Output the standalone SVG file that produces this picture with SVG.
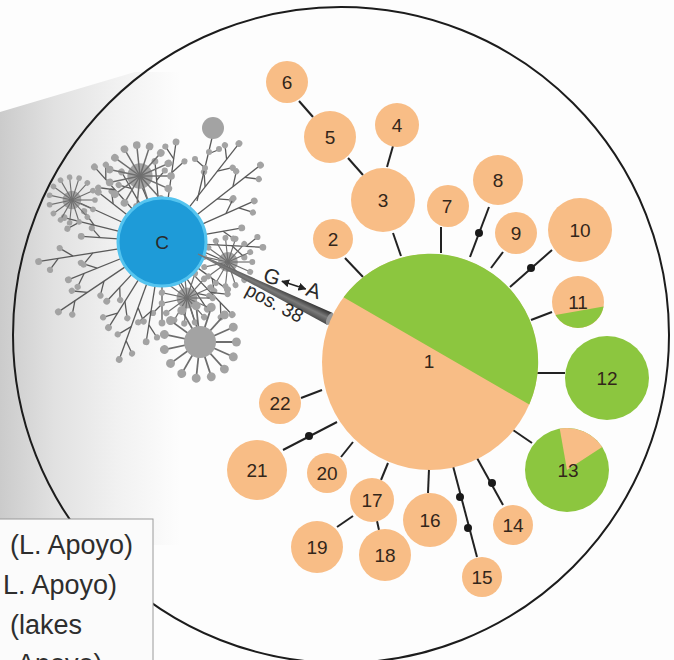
<svg xmlns="http://www.w3.org/2000/svg" xmlns:xlink="http://www.w3.org/1999/xlink" width="674" height="660" viewBox="0 0 674 660">
<style>
.cn line{stroke:#222;stroke-width:2}
.cn circle{fill:#1a1a1a}
.or{fill:#f8bd86}
.gr{fill:#8cc63f}
.num{font-family:"Liberation Sans",Arial,sans-serif;font-size:19px;fill:#33261a;text-anchor:middle}
.lab{font-family:"Liberation Sans",Arial,sans-serif;fill:#2a2a2a}
.leg{font-family:"Liberation Sans",Arial,sans-serif;font-size:27px;fill:#2e2e2e}
</style>
<defs>
<linearGradient id="beam" gradientUnits="userSpaceOnUse" x1="0" y1="0" x2="180" y2="0">
<stop offset="0" stop-color="#cbcbcb"/>
<stop offset="0.3" stop-color="#e1e1e1"/>
<stop offset="0.65" stop-color="#f1f1f1"/>
<stop offset="1" stop-color="#fdfdfd"/>
</linearGradient>
<linearGradient id="wg" gradientUnits="userSpaceOnUse" x1="0" y1="-7" x2="0" y2="7">
<stop offset="0" stop-color="#2a2a2a"/>
<stop offset="0.5" stop-color="#7a7a7a"/>
<stop offset="1" stop-color="#444"/>
</linearGradient>
<marker id="ah" viewBox="0 0 10 10" refX="9" refY="5" markerWidth="5" markerHeight="5" orient="auto-start-reverse">
<path d="M0,0 L10,5 L0,10 Z" fill="#222"/>
</marker>
<g id="spike" stroke="#6e6e6e" stroke-width="1.3" fill="#a3a3a3"><line x1="0" y1="0" x2="26" y2="0"/><circle cx="27" cy="0" r="3.3" stroke="none"/></g>
<g id="burst" fill="#a3a3a3">
<circle cx="0" cy="0" r="11"/>
<use href="#spike" transform="rotate(0)"/><use href="#spike" transform="rotate(24)"/><use href="#spike" transform="rotate(48)"/><use href="#spike" transform="rotate(72)"/><use href="#spike" transform="rotate(96)"/><use href="#spike" transform="rotate(120)"/><use href="#spike" transform="rotate(144)"/><use href="#spike" transform="rotate(168)"/><use href="#spike" transform="rotate(192)"/><use href="#spike" transform="rotate(216)"/><use href="#spike" transform="rotate(240)"/><use href="#spike" transform="rotate(264)"/><use href="#spike" transform="rotate(288)"/><use href="#spike" transform="rotate(312)"/><use href="#spike" transform="rotate(336)"/>
</g>
<g id="b1" stroke="#5a5a5a" stroke-width="1.3" fill="#a3a3a3"><line x1="44" y1="0" x2="100" y2="0"/><line x1="70" y1="0" x2="82" y2="-10"/><line x1="84" y1="0" x2="94" y2="9"/><g stroke="none"><circle cx="101" cy="0" r="3.4"/><circle cx="83" cy="-11" r="3.1"/><circle cx="95" cy="10" r="3.1"/></g></g>
<g id="b2" stroke="#5a5a5a" stroke-width="1.3" fill="#a3a3a3"><line x1="44" y1="0" x2="80" y2="0"/><line x1="62" y1="0" x2="70" y2="8"/><g stroke="none"><circle cx="81" cy="0" r="3.4"/><circle cx="71" cy="9" r="3.1"/></g></g>
<g id="b3" stroke="#5a5a5a" stroke-width="1.3" fill="#a3a3a3"><line x1="44" y1="0" x2="124" y2="0"/><line x1="70" y1="0" x2="80" y2="-9"/><line x1="90" y1="0" x2="101" y2="9"/><line x1="105" y1="0" x2="114" y2="-9"/><g stroke="none"><circle cx="125" cy="0" r="3.4"/><circle cx="81" cy="-10" r="3.1"/><circle cx="102" cy="10" r="3.1"/><circle cx="115" cy="-10" r="3.1"/></g></g>
</defs>

<rect x="0" y="0" width="674" height="660" fill="#fdfdfd"/>
<polygon points="0,112 135,72 180,72 180,545 0,545" fill="url(#beam)"/>

<circle id="frame" cx="341" cy="335" r="328" fill="none" stroke="#1c1c1c" stroke-width="2"/>

<g id="tree">
<g transform="translate(162,242)">
<use href="#b2" transform="rotate(-95)"/>
<use href="#b1" transform="rotate(-82) scale(1,-1)"/>
<use href="#b3" transform="rotate(-52)"/>
<use href="#b3" transform="rotate(-38) scale(1,-1)"/>
<use href="#b1" transform="rotate(-24)"/>
<use href="#b2" transform="rotate(-10)"/>
<use href="#b1" transform="rotate(3) scale(1,-1)"/>
<use href="#b2" transform="rotate(36)"/>
<use href="#b1" transform="rotate(46)"/>
<use href="#b2" transform="rotate(56) scale(1,-1)"/>
<use href="#b2" transform="rotate(90)"/>
<use href="#b1" transform="rotate(99) scale(1,-1)"/>
<use href="#b3" transform="rotate(110)"/>
<use href="#b1" transform="rotate(122)"/>
<use href="#b2" transform="rotate(133) scale(1,-1)"/>
<use href="#b3" transform="rotate(146)"/>
<use href="#b1" transform="rotate(158) scale(1,-1)"/>
<use href="#b3" transform="rotate(171)"/>
<use href="#b2" transform="rotate(184)"/>
<use href="#b1" transform="rotate(194) scale(1,-1)"/>
<use href="#b2" transform="rotate(218)"/>
<use href="#b1" transform="rotate(228)"/>
<use href="#b2" transform="rotate(240) scale(1,-1)"/>
</g>
<g stroke="#5a5a5a" stroke-width="1.3">
<line x1="148" y1="201" x2="142" y2="187"/>
<line x1="124" y1="223" x2="80" y2="203"/>
<line x1="197" y1="201" x2="212" y2="138"/>
<line x1="205" y1="168" x2="196" y2="160"/>
<line x1="208" y1="154" x2="218" y2="150"/>
<line x1="180" y1="281" x2="185" y2="290"/>
<line x1="190" y1="306" x2="197" y2="328"/>
<line x1="204" y1="252" x2="220" y2="259"/>
</g>
<use href="#burst" transform="translate(140,176) scale(1.15)"/>
<use href="#burst" transform="translate(72,200) scale(0.85)"/>
<use href="#burst" transform="translate(187,298) scale(0.95)"/>
<use href="#burst" transform="translate(200,342) scale(1.35)"/>
<use href="#burst" transform="translate(228,262) scale(0.9)"/>
<g fill="#a3a3a3">
<circle cx="195" cy="159" r="3"/><circle cx="219" cy="149" r="3"/>
<circle cx="205" cy="168" r="3"/><circle cx="209" cy="152" r="3"/>
<circle cx="213" cy="128" r="11"/>
<circle cx="200" cy="342" r="16"/>
</g>
</g>

<g id="nC">
<circle cx="162" cy="242" r="44" fill="#1e9bd8" stroke="#55c4ef" stroke-width="3"/>
<text x="162" y="249" class="lab" font-size="19" text-anchor="middle" fill="#1f4f80">C</text>
</g>

<g id="wedge">
<g transform="translate(198,254) rotate(26.2)">
<path d="M0,-0.6 L147,-6.5 L147,6.5 L0,0.6 Z" fill="url(#wg)"/>
<ellipse cx="147" cy="0" rx="3" ry="6.5" fill="#9a9a9a"/>
</g>
<g transform="translate(262,281) rotate(18)">
<text x="0" y="0" class="lab" font-size="21">G</text>
<line x1="19" y1="-6" x2="44" y2="-6" stroke="#222" stroke-width="1.6" marker-start="url(#ah)" marker-end="url(#ah)"/>
<text x="45" y="0" class="lab" font-size="21">A</text>
</g>
<text transform="translate(244,294) rotate(28)" class="lab" font-size="19">pos. 38</text>
</g>

<g id="connectors" class="cn">
<line x1="299" y1="101" x2="313" y2="117"/>
<line x1="348" y1="158" x2="363" y2="175"/>
<line x1="393" y1="146" x2="387" y2="167"/>
<line x1="393" y1="233" x2="401" y2="256"/>
<line x1="345" y1="258" x2="363" y2="277"/>
<line x1="441" y1="227" x2="441" y2="253"/>
<line x1="489" y1="207" x2="470" y2="257"/><circle cx="479" cy="233" r="4"/>
<line x1="503" y1="252" x2="491" y2="268"/>
<line x1="552" y1="250" x2="510" y2="287"/><circle cx="531" cy="268" r="4"/>
<line x1="552" y1="312" x2="531" y2="320"/>
<line x1="537" y1="373" x2="565" y2="373"/>
<line x1="513" y1="430" x2="532" y2="443"/>
<line x1="477" y1="458" x2="503" y2="505"/><circle cx="492" cy="483" r="4"/>
<line x1="453" y1="466" x2="477" y2="557"/><circle cx="460" cy="497" r="4"/><circle cx="468" cy="528" r="4"/>
<line x1="429" y1="469" x2="428" y2="493"/>
<line x1="388" y1="463" x2="381" y2="480"/>
<line x1="377" y1="521" x2="379" y2="530"/>
<line x1="353" y1="516" x2="337" y2="527"/>
<line x1="353" y1="442" x2="341" y2="457"/>
<line x1="337" y1="422" x2="283" y2="450"/><circle cx="309" cy="436" r="4"/>
<line x1="322" y1="390" x2="301" y2="398"/>
</g>

<g id="n1">
<circle cx="430" cy="362" r="108" class="or"/>
<path d="M343.5,297.3 A108,108 0 0 1 529.3,404.6 Z" class="gr"/>
<text x="429" y="368" class="num">1</text>
</g>
<g id="n2"><circle cx="333" cy="239" r="20" class="or"/><text x="333" y="246" class="num">2</text></g>
<g id="n3"><circle cx="383" cy="200" r="32" class="or"/><text x="383" y="207" class="num">3</text></g>
<g id="n4"><circle cx="397" cy="125" r="22" class="or"/><text x="397" y="132" class="num">4</text></g>
<g id="n5"><circle cx="330" cy="137" r="26" class="or"/><text x="330" y="144" class="num">5</text></g>
<g id="n6"><circle cx="287" cy="82" r="21" class="or"/><text x="287" y="89" class="num">6</text></g>
<g id="n7"><circle cx="448" cy="206" r="21" class="or"/><text x="447" y="213" class="num">7</text></g>
<g id="n8"><circle cx="498" cy="180" r="25" class="or"/><text x="498" y="187" class="num">8</text></g>
<g id="n9"><circle cx="516" cy="233" r="21" class="or"/><text x="516" y="240" class="num">9</text></g>
<g id="n10"><circle cx="580" cy="230" r="32" class="or"/><text x="580" y="237" class="num">10</text></g>
<g id="n11">
<circle cx="578" cy="302" r="26" class="or"/>
<path d="M603.6,306.5 A26,26 0 0 1 555.5,315 Z" class="gr"/>
<text x="578" y="309" class="num">11</text>
</g>
<g id="n12"><circle cx="607" cy="378" r="42" class="gr"/><text x="607" y="385" class="num">12</text></g>
<g id="n13">
<circle cx="567" cy="470" r="42" class="gr"/>
<path d="M567,470 L559.7,428.6 A42,42 0 0 1 602.2,447.1 Z" class="or"/>
<text x="568" y="477" class="num">13</text>
</g>
<g id="n14"><circle cx="513" cy="525" r="20" class="or"/><text x="513" y="532" class="num">14</text></g>
<g id="n15"><circle cx="482" cy="577" r="20" class="or"/><text x="482" y="584" class="num">15</text></g>
<g id="n16"><circle cx="430" cy="520" r="27" class="or"/><text x="430" y="527" class="num">16</text></g>
<g id="n17"><circle cx="372" cy="500" r="22" class="or"/><text x="372" y="507" class="num">17</text></g>
<g id="n18"><circle cx="385" cy="555" r="26" class="or"/><text x="385" y="562" class="num">18</text></g>
<g id="n19"><circle cx="317" cy="547" r="26" class="or"/><text x="317" y="554" class="num">19</text></g>
<g id="n20"><circle cx="327" cy="473" r="20" class="or"/><text x="327" y="480" class="num">20</text></g>
<g id="n21"><circle cx="257" cy="470" r="30" class="or"/><text x="257" y="477" class="num">21</text></g>
<g id="n22"><circle cx="280" cy="403" r="21" class="or"/><text x="280" y="410" class="num">22</text></g>

<g id="legend">
<rect x="-2" y="519" width="155" height="145" fill="#fbfbfb" stroke="#9a9a9a" stroke-width="1"/>
<text x="10" y="554" class="leg">(L. Apoyo)</text>
<text x="3" y="594" class="leg">L. Apoyo)</text>
<text x="10" y="634" class="leg">(lakes</text>
<text x="17" y="673" class="leg">Apoyo)</text>
</g>
</svg>
